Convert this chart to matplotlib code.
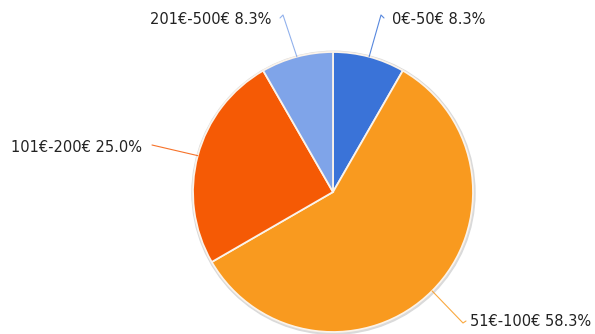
import numpy as np
import matplotlib
matplotlib.use("Agg")
import matplotlib.pyplot as plt

# Price ranges and their shares (%)
categories = ["0€-50€", "51€-100€", "101€-200€", "201€-500€"]
shares = [8.3, 58.3, 25.0, 8.3]
colors = ["#3a73d8", "#f99a1f", "#f55a05", "#7fa4e9"]

W, H = 595, 334
fig = plt.figure(figsize=(W / 100, H / 100), dpi=100)
ax = fig.add_axes([0, 0, 1, 1])

cx, cy, r = 333, 142, 140

# soft outline behind the pie
ax.add_patch(plt.Circle((cx + 0.5, cy - 0.8), r + 1.5, color="#dadada", zorder=0))

wedges, _ = ax.pie(shares, colors=colors, startangle=90, counterclock=False,
                   center=(cx, cy), radius=r, frame=True,
                   wedgeprops=dict(edgecolor="#fbf3ea", linewidth=1.3))
ax.set_xlim(0, W)
ax.set_ylim(0, H)
ax.set_aspect("equal")
ax.axis("off")

# leader elbows and text anchors
label_layout = {
    "0€-50€": ((381, 319), (392, 314), "left", 3),
    "51€-100€": ((463, 11), (470, 12), "left", 3),
    "101€-200€": ((152, 189), (142, 187), "right", 0),
    "201€-500€": ((283, 319), (271, 314), "right", -3),
}

total = sum(shares)
start = 90.0
for name, val, col in zip(categories, shares, colors):
    sweep = 360.0 * val / total
    mid = np.deg2rad(start - sweep / 2)
    start -= sweep
    ex, ey = cx + r * np.cos(mid), cy + r * np.sin(mid)
    (bx, by), (tx, ty), ha, hook = label_layout[name]
    xs, ys = [ex, bx], [ey, by]
    if hook:
        xs.append(bx + hook)
        ys.append(by - 3 if by > cy else by + 2)
    ax.plot(xs, ys, color=col, lw=0.8, alpha=0.85, solid_capstyle="round", zorder=3)
    ax.text(tx, ty, f"{name} {val:.1f}%", ha=ha, va="center",
            fontsize=10.5, color="#222222", family="DejaVu Sans")

fig.savefig("out.png", dpi=100)
